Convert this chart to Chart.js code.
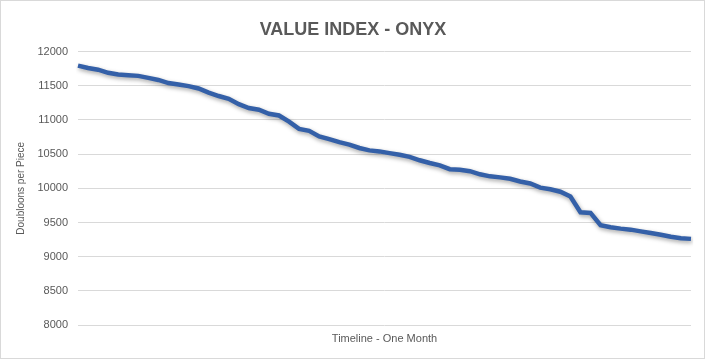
<!DOCTYPE html>
<html>
<head>
<meta charset="utf-8">
<script src="https://cdn.jsdelivr.net/npm/chart.js@4"></script>
<style>
  body { margin: 0; background: #fff; }
  #wrap { width: 705px; height: 359px; box-sizing: border-box; border: 1px solid #d9d9d9; }
</style>
</head>
<body>
<div id="wrap"><canvas id="myChart"></canvas></div>
<script>
// one point per reading over the month (no tick labels on the x axis)
const days = Array.from({ length: 62 }, (_, i) => '');
const onyxValues = [
  11795, 11760, 11735, 11690, 11665, 11655, 11645, 11615, 11585, 11540,
  11520, 11495, 11460, 11400, 11350, 11310, 11230, 11175, 11150, 11090,
  11065, 10975, 10870, 10840, 10760, 10720, 10675, 10640, 10590, 10555,
  10540, 10515, 10490, 10460, 10410, 10370, 10335, 10280, 10270, 10250,
  10205, 10175, 10160, 10140, 10100, 10070, 10010, 9985, 9950, 9880,
  9650, 9640, 9460, 9430, 9410, 9395, 9370, 9345, 9320, 9290,
  9270, 9260
];
const yTicks = [8000, 8500, 9000, 9500, 10000, 10500, 11000, 11500, 12000];

const grey = '#595959';
const font = "'Liberation Sans', Arial, sans-serif";

// soft drop shadow under the line, like the spreadsheet original
const lineShadow = {
  id: 'lineShadow',
  beforeDatasetDraw(chart) {
    const c = chart.ctx;
    c.save();
    c.shadowColor = 'rgba(0, 0, 0, 0.35)';
    c.shadowBlur = 4;
    c.shadowOffsetX = 1;
    c.shadowOffsetY = 2;
  },
  afterDatasetDraw(chart) {
    chart.ctx.restore();
  }
};

const ctx = document.getElementById('myChart');

new Chart(ctx, {
  type: 'line',
  data: {
    labels: days,
    datasets: [{
      label: 'Onyx',
      data: onyxValues,
      borderColor: '#3460a8',
      borderWidth: 4.5,
      pointRadius: 0,
      tension: 0,
      fill: false
    }]
  },
  options: {
    responsive: true,
    maintainAspectRatio: false,
    animation: false,
    layout: { padding: { left: 14, right: 13, top: 8, bottom: 12 } },
    plugins: {
      legend: { display: false },
      tooltip: { enabled: false },
      title: {
        display: true,
        text: 'VALUE INDEX - ONYX',
        color: grey,
        font: { family: font, size: 18, weight: 'bold' },
        padding: { top: 10, bottom: 11 }
      }
    },
    scales: {
      x: {
        offset: false,
        grid: { display: false },
        border: { display: false },
        ticks: { display: false },
        afterFit(axis) { axis.height = 21; },
        title: {
          display: true,
          text: 'Timeline - One Month',
          color: grey,
          font: { family: font, size: 11 },
          padding: { top: 2, bottom: 0 }
        }
      },
      y: {
        min: 8000,
        max: 12000,
        afterBuildTicks(axis) {
          axis.ticks = yTicks.map(v => ({ value: v }));
        },
        afterFit(axis) { axis.width = 63; },
        grid: { color: '#d9d9d9', lineWidth: 1, drawTicks: false },
        border: { display: false },
        ticks: {
          color: grey,
          font: { family: font, size: 11 },
          padding: 10,
          callback: v => String(v)
        },
        title: {
          display: true,
          text: 'Doubloons per Piece',
          color: grey,
          font: { family: font, size: 10 },
          padding: { top: 0, bottom: 4 }
        }
      }
    }
  },
  plugins: [lineShadow]
});
</script>
</body>
</html>
